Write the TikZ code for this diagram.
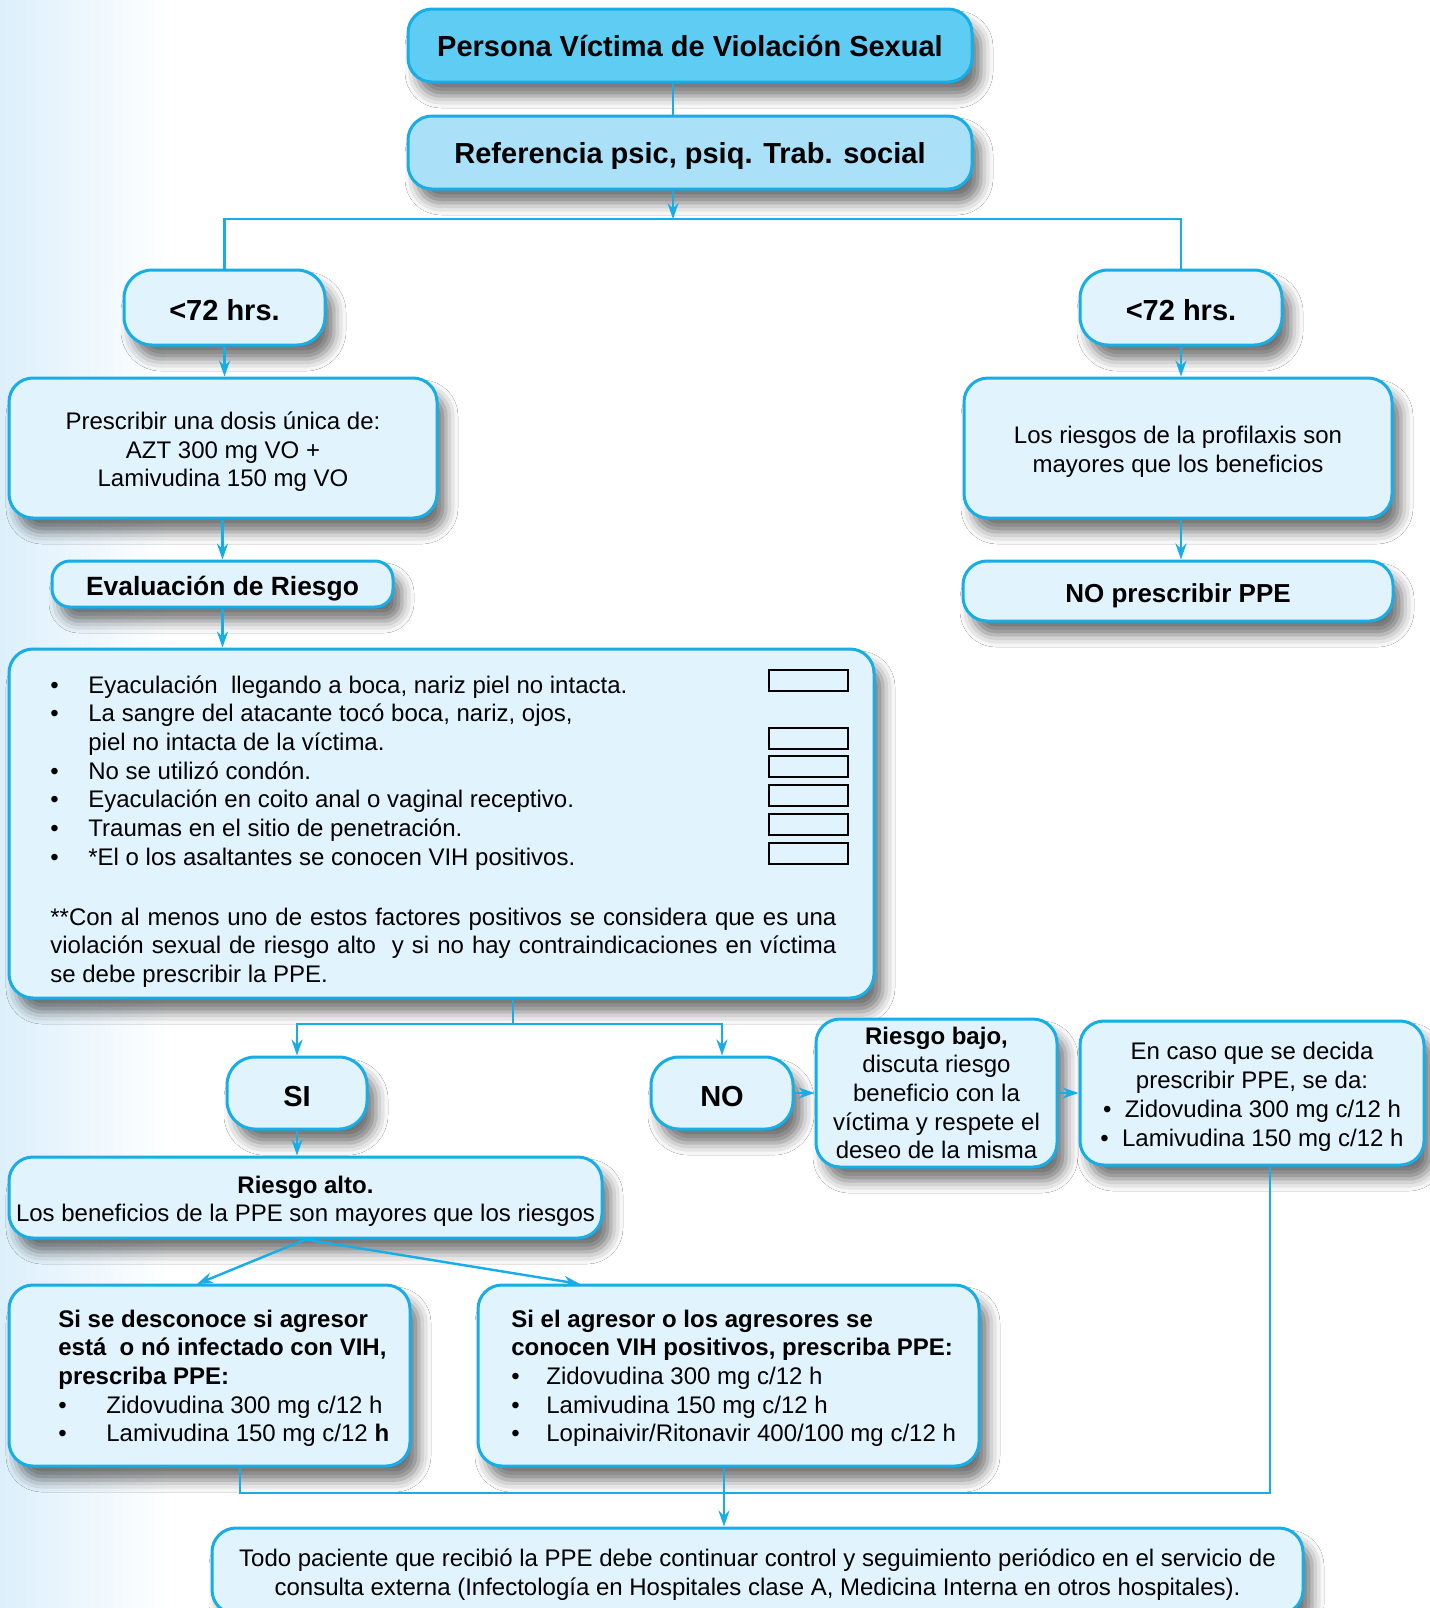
\documentclass[tikz,border=0pt]{standalone}
\usepackage{fontspec}
\setmainfont{Liberation Sans}
\usetikzlibrary{arrows.meta,shadows.blur,calc}
\definecolor{cyanline}{HTML}{17ADE6}
\definecolor{fillA}{HTML}{5FCCF3}
\definecolor{fillB}{HTML}{AAE1F9}
\definecolor{fillC}{HTML}{E1F3FC}
\definecolor{bgblue}{HTML}{DCEFFB}
\newcommand\mybstrut{\rule{0pt}{14.5pt}}
\newcommand\mysstrut{\rule{0pt}{13.5pt}}
\newcommand\mymstrut{\rule{0pt}{12.5pt}}
\tikzset{
  every node/.append style={font=\fontsize{12}{14.35}\selectfont},
  box/.style={draw=cyanline, line width=1.5pt, rounded corners=12pt, fill=fillC,
    inner sep=0pt, align=center,
    blur shadow={shadow xshift=4.5pt, shadow yshift=-7pt, shadow blur radius=6pt, shadow opacity=55}},
  bigfont/.style={font=\fontsize{14.5}{17}\selectfont\bfseries},
  midfont/.style={font=\fontsize{13.2}{16}\selectfont\bfseries},
  conn/.style={draw=cyanline, line width=1.2pt},
  arr/.style={conn, -{Stealth[length=8pt,width=5.5pt]}},
  chk/.style={draw=black, line width=1.2pt},
  txt/.style={inner sep=0pt, anchor=base west},
}
\begin{document}
\begin{tikzpicture}[x=0.5pt,y=-0.5pt]
\useasboundingbox (0,0) rectangle (1430,1608);
\fill[white] (0,0) rectangle (1430,1608);
\shade[left color=bgblue, right color=white] (0,0) rectangle (170,1608);

% boxes
\node[box, fill=fillA, bigfont, minimum width=282pt, minimum height=36.5pt] (n1) at (690,45.5) {Persona Víctima de Violación Sexual};
\node[box, fill=fillB, bigfont, minimum width=282pt, minimum height=36.5pt] (n2) at (690,152.5) {\mybstrut Referencia psic, psiq. Trab. social};
\node[box, bigfont, rounded corners=14pt, minimum width=100.5pt, minimum height=37.5pt] (h1) at (224.5,307.5) {\mysstrut<72 hrs.};
\node[box, bigfont, rounded corners=14pt, minimum width=101pt, minimum height=37.5pt] (h2) at (1181,307.5) {\mysstrut<72 hrs.};
\node[box, minimum width=214pt, minimum height=70pt] (p1) at (223,448) {\mymstrut Prescribir una dosis única de:\\AZT 300 mg VO +\\Lamivudina 150 mg VO};
\node[box, minimum width=214pt, minimum height=70pt] (r1) at (1178,448) {\mymstrut Los riesgos de la profilaxis son\\mayores que los beneficios};
\node[box, font=\fontsize{13}{16}\selectfont\bfseries, minimum width=215pt, minimum height=30pt] (np) at (1178,591) {\mybstrut NO prescribir PPE};
\node[box, midfont, rounded corners=9pt, minimum width=170.5pt, minimum height=23pt] (ev) at (222.5,584) {\mybstrut Evaluación de Riesgo};
\node[box, minimum width=432.5pt, minimum height=174.5pt] (big) at (441.5,823.5) {};
\node[box, bigfont, rounded corners=14pt, minimum width=70pt, minimum height=36pt] (si) at (297,1093) {\mysstrut SI};
\node[box, bigfont, rounded corners=14pt, minimum width=71pt, minimum height=36pt] (no) at (722,1093) {\mysstrut NO};
\node[box, minimum width=120.5pt, minimum height=74pt] (rb) at (936.5,1093) {\textbf{Riesgo bajo,}\\discuta riesgo\\beneficio con la\\víctima y respete el\\deseo de la misma};
\node[box, minimum width=172pt, minimum height=72pt] (ec) at (1252,1093) {\mymstrut En caso que se decida\\prescribir PPE, se da:\\\textbullet\ \ Zidovudina 300 mg c/12 h\\\textbullet\ \ Lamivudina 150 mg c/12 h};
\node[box, minimum width=296.5pt, minimum height=40.5pt] (ra) at (305.5,1197.5) {\mymstrut\textbf{Riesgo alto.}\\Los beneficios de la PPE son mayores que los riesgos};
\node[box, minimum width=200.5pt, minimum height=90.5pt] (lb) at (209.5,1375.5) {};
\node[box, minimum width=250.5pt, minimum height=90.5pt] (mb) at (728.5,1375.5) {};
\node[box, minimum width=545.5pt, minimum height=43pt] (bt) at (757.5,1571) {\mymstrut Todo paciente que recibió la PPE debe continuar control y seguimiento periódico en el servicio de\\consulta externa (Infectología en Hospitales clase A, Medicina Interna en otros hospitales).};

% text inside the large boxes
\node[txt] (t1) at (50,693) {\parbox[t]{350pt}{%
\makebox[19pt][l]{\textbullet}Eyaculación\ \ llegando a boca, nariz piel no intacta.\\
\makebox[19pt][l]{\textbullet}La sangre del atacante tocó boca, nariz, ojos,\\
\hspace*{19pt}piel no intacta de la víctima.\\
\makebox[19pt][l]{\textbullet}No se utilizó condón.\\
\makebox[19pt][l]{\textbullet}Eyaculación en coito anal o vaginal receptivo.\\
\makebox[19pt][l]{\textbullet}Traumas en el sitio de penetración.\\
\makebox[19pt][l]{\textbullet}*El o los asaltantes se conocen VIH positivos.}};
\node[txt] (t2) at (50,925) {\parbox[t]{393pt}{%
**Con al menos uno de estos factores positivos se considera que es una\linebreak
violación sexual de riesgo alto\ \ y si no hay contraindicaciones en víctima\linebreak
se debe prescribir la PPE.}};
\node[txt] (t3) at (58,1327) {\parbox[t]{190pt}{%
\textbf{Si se desconoce si agresor}\\
\textbf{está\ \ o nó infectado con VIH,}\\
\textbf{prescriba PPE:}\\
\makebox[24pt][l]{\textbullet}Zidovudina 300 mg c/12 h\\
\makebox[24pt][l]{\textbullet}Lamivudina 150 mg c/12 \textbf{h}}};
\node[txt] (t4) at (511,1327) {\parbox[t]{240pt}{%
\textbf{Si el agresor o los agresores se}\\
\textbf{conocen VIH positivos, prescriba PPE:}\\
\makebox[17.5pt][l]{\textbullet}Zidovudina 300 mg c/12 h\\
\makebox[17.5pt][l]{\textbullet}Lamivudina 150 mg c/12 h\\
\makebox[17.5pt][l]{\textbullet}Lopinaivir/Ritonavir 400/100 mg c/12 h}};

% check boxes
\draw[chk] (769,670) rectangle (848,691);
\draw[chk] (769,728) rectangle (848,749);
\draw[chk] (769,756) rectangle (848,777);
\draw[chk] (769,785) rectangle (848,806);
\draw[chk] (769,814) rectangle (848,835);
\draw[chk] (769,843) rectangle (848,864);

% helper coordinates
\coordinate (xa) at (673,0);
\coordinate (hy) at (0,219);
\coordinate (xb) at (513,0);
\coordinate (sy) at (0,1024);
\coordinate (xc) at (1270,0);
\coordinate (xl) at (240,0);
\coordinate (by) at (0,1493);
\coordinate (xm) at (724,0);
\coordinate (lbt) at (197,1284);
\coordinate (mbt) at (580,1284);

% connectors
\draw[conn] (n1.south -| xa) -- (n2.north -| xa);
\draw[arr] (n2.south -| xa) -- (xa |- hy);
\draw[conn] (h1.north) -- (h1.north |- hy) -- (h2.north |- hy) -- (h2.north);
\draw[arr] (h1.south) -- (p1.north -| h1.south);
\draw[arr] (h2.south) -- (r1.north -| h2.south);
\draw[arr] (p1.south -| ev.north) -- (ev.north);
\draw[arr] (r1.south -| h2.south) -- (np.north -| h2.south);
\draw[arr] (ev.south) -- (big.north -| ev.south);
\draw[conn] (big.south -| xb) -- (xb |- sy);
\draw[arr] (xb |- sy) -| (si.north);
\draw[arr] (xb |- sy) -| (no.north);
\draw[arr] (no.east) -- (rb.west |- no.east);
\draw[arr] (rb.east) -- (ec.west |- rb.east);
\draw[arr] (si.south) -- (ra.north -| si.south);
\draw[arr] (ra.south) -- (lbt);
\draw[arr] (ra.south) -- (mbt);
\draw[conn] (ec.south -| xc) -- (xc |- by) -- (xl |- by) -- (lb.south -| xl);
\draw[arr] (mb.south -| xm) -- (bt.north -| xm);
\end{tikzpicture}
\end{document}
